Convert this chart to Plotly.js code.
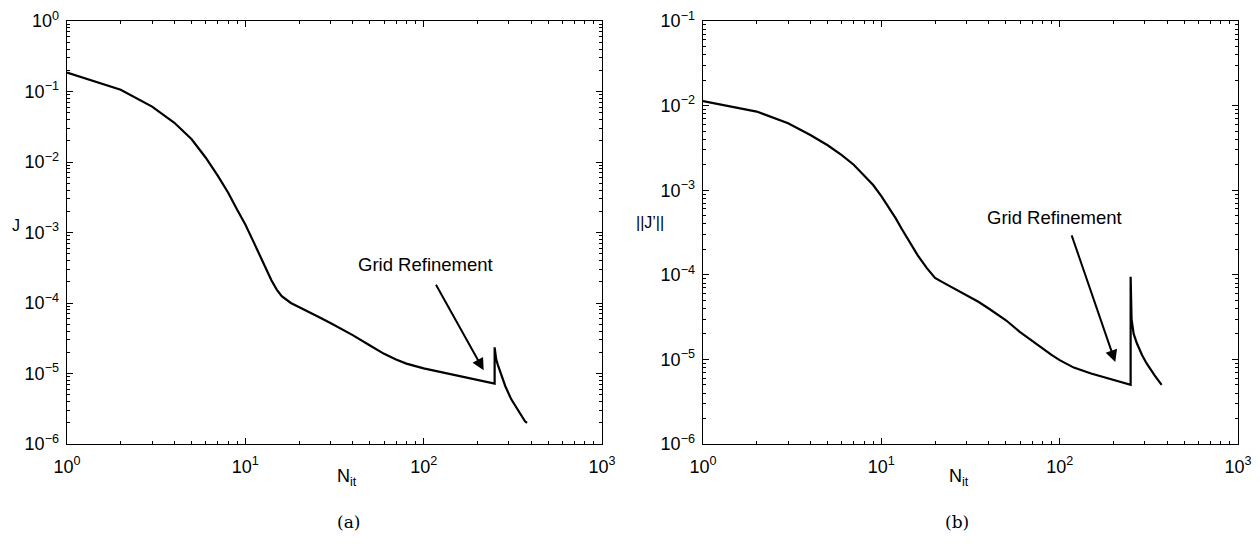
<!DOCTYPE html>
<html>
<head>
<meta charset="utf-8">
<script src="https://cdn.plot.ly/plotly-3.0.1.min.js"></script>
<style>
  html, body { margin: 0; padding: 0; background: #fff; }
  #chart { width: 1260px; height: 549px; }
</style>
</head>
<body>
<div id="chart"></div>
<script>
// Convergence history: cost J and gradient norm ||J'|| vs. iteration count.
// A grid refinement at iteration 250 causes the jump in both curves.

const iterJ = [1, 2, 3, 4, 5, 6, 7, 8, 9, 10, 11, 12, 13, 14, 15, 16, 18, 20, 25, 30, 35, 40,
  50, 60, 70, 80, 100, 130, 160, 200, 250, 250, 252, 255, 260, 270, 287, 310, 340, 370, 380];
const costJ = [0.185, 0.106, 0.061, 0.036, 0.021, 0.0115, 0.0064, 0.0037, 0.0021, 0.0013,
  0.00078, 0.00048, 0.00030, 0.00021, 0.000155, 0.000125, 0.000100, 0.000088, 0.000066,
  0.000052, 0.0000425, 0.000035, 0.000025, 0.000019, 0.0000158, 0.0000138, 0.0000118,
  0.0000102, 0.0000091, 0.0000081, 0.0000072, 0.0000235, 0.000019, 0.000016, 0.0000135,
  0.0000100, 0.0000066, 0.0000043, 0.0000029, 0.0000021, 0.0000020];

const iterG = [1, 2, 3, 4, 5, 6, 7, 8, 9, 10, 11, 12, 13, 14, 15, 16, 18, 20, 22, 25, 30, 35,
  40, 50, 60, 70, 80, 90, 100, 120, 150, 200, 250, 250, 251, 253, 260, 271, 290, 308, 340, 373];
const gradJ = [0.0113, 0.0085, 0.0062, 0.0045, 0.0034, 0.0026, 0.0020, 0.0015, 0.00115,
  0.00085, 0.00063, 0.00047, 0.00035, 0.00027, 0.00021, 0.00017, 0.00012, 0.000092,
  0.000082, 0.000071, 0.000058, 0.000048, 0.000040, 0.000029, 0.000021, 0.0000165,
  0.0000135, 0.0000113, 0.0000098, 0.0000080, 0.0000068, 0.0000057, 0.0000050, 0.000095,
  0.000045, 0.000030, 0.000020, 0.0000155, 0.0000112, 0.0000089, 0.0000065, 0.0000050];

const xTickVals = [1, 10, 100, 1000];
const xTickText = ['10<sup>0</sup>', '10<sup>1</sup>', '10<sup>2</sup>', '10<sup>3</sup>'];
const yTickValsA = [1e-6, 1e-5, 1e-4, 1e-3, 1e-2, 1e-1, 1];
const yTickTextA = ['10<sup>−6</sup>', '10<sup>−5</sup>', '10<sup>−4</sup>', '10<sup>−3</sup>',
  '10<sup>−2</sup>', '10<sup>−1</sup>', '10<sup>0</sup>'];
const yTickValsB = [1e-6, 1e-5, 1e-4, 1e-3, 1e-2, 1e-1];
const yTickTextB = ['10<sup>−6</sup>', '10<sup>−5</sup>', '10<sup>−4</sup>', '10<sup>−3</sup>',
  '10<sup>−2</sup>', '10<sup>−1</sup>'];

// Minor ticks at 2..9 times each power of ten within a range
function minorTicks(lo, hi) {
  const out = [];
  for (let e = lo; e < hi; e++) {
    for (let m = 2; m <= 9; m++) out.push(m * Math.pow(10, e));
  }
  return out;
}

const FONT = 'Liberation Sans, Arial, Helvetica, sans-serif';

function logAxis(domain, range, tv, tt, minorVals, anchor, standoff) {
  return {
    type: 'log',
    domain: domain,
    range: range,
    anchor: anchor,
    tickmode: 'array',
    tickvals: tv,
    ticktext: tt,
    ticks: 'inside',
    ticklen: 6,
    tickwidth: 1,
    tickcolor: '#000',
    minor: { tickmode: 'array', tickvals: minorVals, ticks: 'inside', ticklen: 3, tickwidth: 1, tickcolor: '#000', showgrid: false },
    showline: true,
    linecolor: '#000',
    linewidth: 1.4,
    mirror: 'ticks',
    showgrid: false,
    zeroline: false,
    tickfont: { family: FONT, size: 18, color: '#000' },
    ticklabelstandoff: standoff
  };
}

const traces = [
  { x: iterJ, y: costJ, xaxis: 'x', yaxis: 'y', mode: 'lines',
    line: { color: '#000', width: 2.2 }, hoverinfo: 'skip' },
  { x: iterG, y: gradJ, xaxis: 'x2', yaxis: 'y2', mode: 'lines',
    line: { color: '#000', width: 2.2 }, hoverinfo: 'skip' }
];

const L = Math.log10;
const W = 1260, H = 549;
const px = v => v / W;
const py = v => 1 - v / H;

const labelFont = { family: FONT, size: 16, color: '#000' };
const noteFont = { family: FONT, size: 18.5, color: '#000' };
const capFont = { family: 'DejaVu Serif, Liberation Serif, serif', size: 17, color: '#000' };

const annotations = [
  // Axis labels
  { xref: 'paper', yref: 'paper', x: px(10), y: py(226), text: 'J', showarrow: false, font: labelFont },
  { xref: 'paper', yref: 'paper', x: px(650), y: py(223), text: '||J’||', showarrow: false, font: labelFont },
  { xref: 'paper', yref: 'paper', x: px(334.5), y: py(491), text: 'N<sub>it</sub>', showarrow: false,
    font: { family: FONT, size: 18, color: '#000' } },
  { xref: 'paper', yref: 'paper', x: px(970.5), y: py(491), text: 'N<sub>it</sub>', showarrow: false,
    font: { family: FONT, size: 18, color: '#000' } },
  // Sub-figure captions
  { xref: 'paper', yref: 'paper', x: px(334.5), y: py(534), text: '(a)', showarrow: false, font: capFont },
  { xref: 'paper', yref: 'paper', x: px(970.5), y: py(534), text: '(b)', showarrow: false, font: capFont },
  // Grid refinement notes
  { xref: 'x', yref: 'y', x: L(102), y: L(3.5e-4), text: 'Grid Refinement', showarrow: false, font: noteFont },
  { xref: 'x', yref: 'y', axref: 'x', ayref: 'y', x: L(217), y: L(1.11e-5), ax: L(116), ay: L(1.9e-4),
    text: '', showarrow: true, arrowhead: 2, arrowsize: 1.2, arrowwidth: 2, arrowcolor: '#000', standoff: 0 },
  { xref: 'x2', yref: 'y2', x: L(93), y: L(4.7e-4), text: 'Grid Refinement', showarrow: false, font: noteFont },
  { xref: 'x2', yref: 'y2', axref: 'x2', ayref: 'y2', x: L(205), y: L(9.3e-6), ax: L(116), ay: L(3.05e-4),
    text: '', showarrow: true, arrowhead: 2, arrowsize: 1.2, arrowwidth: 2, arrowcolor: '#000', standoff: 0 }
];

const yDom = [1 - 444 / H, 1 - 21 / H];

const layout = {
  width: W, height: H,
  margin: { l: 0, r: 0, t: 0, b: 0 },
  paper_bgcolor: '#fff',
  plot_bgcolor: '#fff',
  showlegend: false,
  xaxis: logAxis([px(67), px(602)], [0, 3], xTickVals, xTickText, minorTicks(0, 3), 'y', 6),
  yaxis: logAxis(yDom, [-6, 0], yTickValsA, yTickTextA, minorTicks(-6, 0), 'x', 3),
  xaxis2: logAxis([px(703), px(1238)], [0, 3], xTickVals, xTickText, minorTicks(0, 3), 'y2', 6),
  yaxis2: logAxis(yDom, [-6, -1], yTickValsB, yTickTextB, minorTicks(-6, -1), 'x2', 3),
  annotations: annotations
};

Plotly.newPlot('chart', traces, layout, { staticPlot: true, displayModeBar: false });
</script>
</body>
</html>
